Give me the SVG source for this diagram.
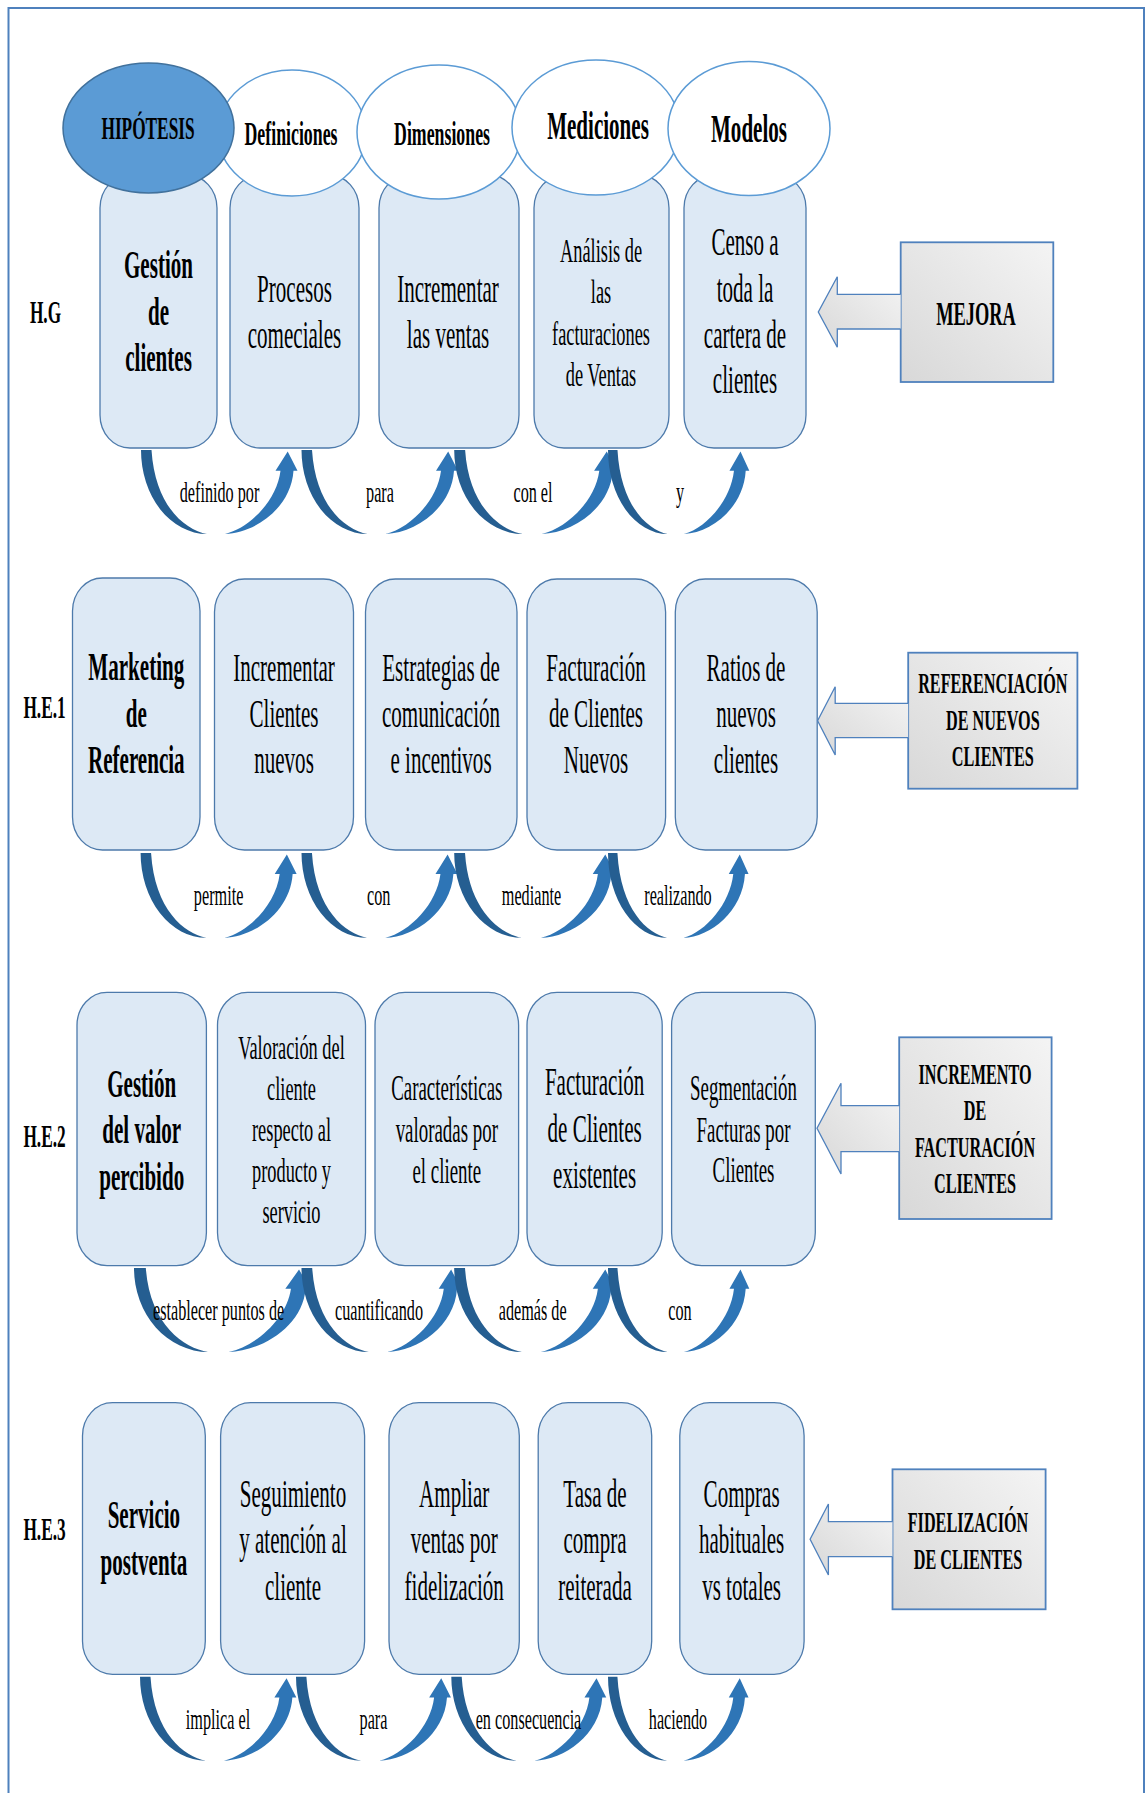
<svg xmlns="http://www.w3.org/2000/svg" xmlns:xlink="http://www.w3.org/1999/xlink" width="1147" height="1793" viewBox="0 0 1147 1793">
  <style>
    text { font-family: "Liberation Serif", "Times New Roman", serif; fill: #000; text-anchor: middle; }
    .b { font-weight: bold; }
    .f39 { font-size: 39px; }
    .f35 { font-size: 35px; }
    .f34 { font-size: 34px; }
    .f33 { font-size: 33px; }
    .f32 { font-size: 32px; }
    .f30 { font-size: 30px; }
    .box { fill: #dde9f5; stroke: #4d7aab; stroke-width: 1.3; }
    .ell { fill: #ffffff; stroke: #5b9bd5; stroke-width: 1.5; }
    .ell-main { fill: #5b9bd5; stroke: #41719c; stroke-width: 1.5; }
    .tag { fill: url(#grey); stroke: #4f81bd; stroke-width: 1.8; }
    .blk { fill: url(#grey); stroke: #4f81bd; stroke-width: 1.3; }
    .cd { fill: #255e91; }
    .cl { fill: #2e75b6; }
  </style>
  <defs>
    <linearGradient id="grey" x1="1" y1="0" x2="0" y2="1">
      <stop offset="0" stop-color="#f4f4f4"/>
      <stop offset="1" stop-color="#d8d8d8"/>
    </linearGradient>
    <!-- curved "U" connector: dark back band, lighter rising arrow -->
    <g id="curv">
      <path class="cd" d="M0,0 A66,84 0 0 0 66,84 C44,80 14,56 10.5,0 Z"/>
      <path class="cl" d="M84,84 C114,83 150,58 152.5,20.7 L156.5,20.7 L146.7,1.5 L134.5,20.7 L139.5,20.7 C136,50 109,78 84,84 Z"/>
    </g>
  </defs>

  <!-- outer frame -->
  <rect x="8.5" y="8" width="1135.5" height="1800" fill="#ffffff" stroke="#4f81bd" stroke-width="2"/>

  <!-- ===== H.G row ===== -->
  <g id="hg-label"><text class="b f32" transform="matrix(.54 0 0 1 45.5 0)" y="323">H.G</text></g>

  <g id="hg-gestion">
    <rect class="box" x="100" y="175" width="117" height="273" rx="30" ry="33"/>
    <text class="b f39" transform="matrix(.54 0 0 1 158.5 0)"><tspan x="0" y="278">Gestión</tspan><tspan x="0" y="325">de</tspan><tspan x="0" y="371.5">clientes</tspan></text>
  </g>
  <g id="hg-procesos">
    <rect class="box" x="230" y="175" width="129" height="273" rx="30" ry="33"/>
    <text class="f39" transform="matrix(.54 0 0 1 294.5 0)"><tspan x="0" y="302">Procesos</tspan><tspan x="0" y="348">comeciales</tspan></text>
  </g>
  <g id="hg-incrementar">
    <rect class="box" x="379" y="175" width="140" height="273" rx="30" ry="33"/>
    <text class="f39" transform="matrix(.54 0 0 1 448 0)"><tspan x="0" y="302">Incrementar</tspan><tspan x="0" y="348">las ventas</tspan></text>
  </g>
  <g id="hg-analisis">
    <rect class="box" x="534" y="175" width="135" height="273" rx="30" ry="33"/>
    <text class="f34" transform="matrix(.54 0 0 1 601 0)"><tspan x="0" y="262.5">Análisis de</tspan><tspan x="0" y="303">las</tspan><tspan x="0" y="344.6">facturaciones</tspan><tspan x="0" y="386.4">de Ventas</tspan></text>
  </g>
  <g id="hg-censo">
    <rect class="box" x="684" y="175" width="122" height="273" rx="30" ry="33"/>
    <text class="f39" transform="matrix(.54 0 0 1 745 0)"><tspan x="0" y="255.4">Censo a</tspan><tspan x="0" y="301.8">toda la</tspan><tspan x="0" y="348.2">cartera de</tspan><tspan x="0" y="393">clientes</tspan></text>
  </g>

  <!-- column headings -->
  <g id="head-definiciones">
    <ellipse class="ell" cx="292" cy="133" rx="74" ry="63"/>
    <text class="b f33" transform="matrix(.54 0 0 1 291 0)" y="144.6">Definiciones</text>
  </g>
  <g id="head-dimensiones">
    <ellipse class="ell" cx="439" cy="132" rx="82" ry="67"/>
    <text class="b f33" transform="matrix(.54 0 0 1 442 0)" y="144.6">Dimensiones</text>
  </g>
  <g id="head-mediciones">
    <ellipse class="ell" cx="596" cy="127.5" rx="84" ry="67.5"/>
    <text class="b f39" transform="matrix(.54 0 0 1 598 0)" y="139">Mediciones</text>
  </g>
  <g id="head-modelos">
    <ellipse class="ell" cx="749" cy="128.5" rx="81" ry="67"/>
    <text class="b f39" transform="matrix(.54 0 0 1 749 0)" y="142">Modelos</text>
  </g>
  <g id="head-hipotesis">
    <ellipse class="ell-main" cx="148.5" cy="128" rx="85.5" ry="65"/>
    <text class="b f32" transform="matrix(.54 0 0 1 148 0)" y="139">HIPÓTESIS</text>
  </g>

  <g id="hg-mejora">
    <rect class="tag" x="900.7" y="242.3" width="152.6" height="139.7"/>
    <text class="b f34" transform="matrix(.54 0 0 1 976 0)" y="325">MEJORA</text>
  </g>

  <!-- ===== H.E.1 row ===== -->
  <g id="he1-label"><text class="b f32" transform="matrix(.54 0 0 1 44.5 0)" y="717.7">H.E.1</text></g>
  <g id="he1-marketing">
    <rect class="box" x="72.5" y="578" width="127.5" height="272" rx="30" ry="33"/>
    <text class="b f39" transform="matrix(.54 0 0 1 136.3 0)"><tspan x="0" y="680">Marketing</tspan><tspan x="0" y="726.7">de</tspan><tspan x="0" y="773.3">Referencia</tspan></text>
  </g>
  <g id="he1-clientes">
    <rect class="box" x="214.5" y="579" width="139" height="271" rx="30" ry="33"/>
    <text class="f39" transform="matrix(.54 0 0 1 284 0)"><tspan x="0" y="680.7">Incrementar</tspan><tspan x="0" y="727.5">Clientes</tspan><tspan x="0" y="773.3">nuevos</tspan></text>
  </g>
  <g id="he1-estrategias">
    <rect class="box" x="365.5" y="579" width="151.5" height="271" rx="30" ry="33"/>
    <text class="f39" transform="matrix(.54 0 0 1 441 0)"><tspan x="0" y="680.7">Estrategias de</tspan><tspan x="0" y="727.5">comunicación</tspan><tspan x="0" y="773.3">e incentivos</tspan></text>
  </g>
  <g id="he1-facturacion">
    <rect class="box" x="527" y="579" width="138.6" height="271" rx="30" ry="33"/>
    <text class="f39" transform="matrix(.54 0 0 1 596 0)"><tspan x="0" y="680.7">Facturación</tspan><tspan x="0" y="727.5">de Clientes</tspan><tspan x="0" y="773.3">Nuevos</tspan></text>
  </g>
  <g id="he1-ratios">
    <rect class="box" x="675.3" y="579" width="141.9" height="271" rx="30" ry="33"/>
    <text class="f39" transform="matrix(.54 0 0 1 746 0)"><tspan x="0" y="680.7">Ratios de</tspan><tspan x="0" y="727.5">nuevos</tspan><tspan x="0" y="773.3">clientes</tspan></text>
  </g>
  <g id="he1-referenciacion">
    <rect class="tag" x="908.2" y="652.7" width="169.2" height="136"/>
    <text class="b f30" transform="matrix(.54 0 0 1 992.8 0)"><tspan x="0" y="693.3">REFERENCIACIÓN</tspan><tspan x="0" y="730">DE NUEVOS</tspan><tspan x="0" y="766">CLIENTES</tspan></text>
  </g>

  <!-- ===== H.E.2 row ===== -->
  <g id="he2-label"><text class="b f32" transform="matrix(.54 0 0 1 44.5 0)" y="1146.7">H.E.2</text></g>
  <g id="he2-gestion">
    <rect class="box" x="77" y="992.3" width="129.4" height="273.4" rx="30" ry="33"/>
    <text class="b f39" transform="matrix(.54 0 0 1 141.7 0)"><tspan x="0" y="1096.7">Gestión</tspan><tspan x="0" y="1143.3">del valor</tspan><tspan x="0" y="1190">percibido</tspan></text>
  </g>
  <g id="he2-valoracion">
    <rect class="box" x="217.5" y="992.3" width="148" height="273.4" rx="30" ry="33"/>
    <text class="f34" transform="matrix(.54 0 0 1 291.5 0)"><tspan x="0" y="1059">Valoración del</tspan><tspan x="0" y="1099.8">cliente</tspan><tspan x="0" y="1140.8">respecto al</tspan><tspan x="0" y="1181.8">producto y</tspan><tspan x="0" y="1223">servicio</tspan></text>
  </g>
  <g id="he2-caracteristicas">
    <rect class="box" x="375" y="992.3" width="143.6" height="273.4" rx="30" ry="33"/>
    <text class="f35" transform="matrix(.54 0 0 1 446.8 0)"><tspan x="0" y="1100">Características</tspan><tspan x="0" y="1141.7">valoradas por</tspan><tspan x="0" y="1183.3">el cliente</tspan></text>
  </g>
  <g id="he2-facturacion">
    <rect class="box" x="527" y="992.3" width="135.2" height="273.4" rx="30" ry="33"/>
    <text class="f39" transform="matrix(.54 0 0 1 594.6 0)"><tspan x="0" y="1095">Facturación</tspan><tspan x="0" y="1141.7">de Clientes</tspan><tspan x="0" y="1188.3">existentes</tspan></text>
  </g>
  <g id="he2-segmentacion">
    <rect class="box" x="671.6" y="992.3" width="143.7" height="273.4" rx="30" ry="33"/>
    <text class="f35" transform="matrix(.54 0 0 1 743.5 0)"><tspan x="0" y="1100">Segmentación</tspan><tspan x="0" y="1141.7">Facturas por</tspan><tspan x="0" y="1182.3">Clientes</tspan></text>
  </g>
  <g id="he2-incremento">
    <rect class="tag" x="899.2" y="1037.3" width="152.4" height="181.7"/>
    <text class="b f30" transform="matrix(.54 0 0 1 975 0)"><tspan x="0" y="1084">INCREMENTO</tspan><tspan x="0" y="1120.5">DE</tspan><tspan x="0" y="1157">FACTURACIÓN</tspan><tspan x="0" y="1193.5">CLIENTES</tspan></text>
  </g>

  <!-- ===== H.E.3 row ===== -->
  <g id="he3-label"><text class="b f32" transform="matrix(.54 0 0 1 44.5 0)" y="1540">H.E.3</text></g>
  <g id="he3-servicio">
    <rect class="box" x="82.5" y="1402.7" width="122.8" height="271.6" rx="30" ry="33"/>
    <text class="b f39" transform="matrix(.54 0 0 1 143.9 0)"><tspan x="0" y="1528.3">Servicio</tspan><tspan x="0" y="1575">postventa</tspan></text>
  </g>
  <g id="he3-seguimiento">
    <rect class="box" x="220.6" y="1402.7" width="144" height="271.6" rx="30" ry="33"/>
    <text class="f39" transform="matrix(.54 0 0 1 293 0)"><tspan x="0" y="1506.7">Seguimiento</tspan><tspan x="0" y="1553.3">y atención al</tspan><tspan x="0" y="1600">cliente</tspan></text>
  </g>
  <g id="he3-ampliar">
    <rect class="box" x="389" y="1402.7" width="130.3" height="271.6" rx="30" ry="33"/>
    <text class="f39" transform="matrix(.54 0 0 1 454.2 0)"><tspan x="0" y="1506.7">Ampliar</tspan><tspan x="0" y="1553.3">ventas por</tspan><tspan x="0" y="1600">fidelización</tspan></text>
  </g>
  <g id="he3-tasa">
    <rect class="box" x="538.2" y="1402.7" width="113.5" height="271.6" rx="30" ry="33"/>
    <text class="f39" transform="matrix(.54 0 0 1 595 0)"><tspan x="0" y="1506.7">Tasa de</tspan><tspan x="0" y="1553.3">compra</tspan><tspan x="0" y="1600">reiterada</tspan></text>
  </g>
  <g id="he3-compras">
    <rect class="box" x="679.8" y="1402.7" width="124.3" height="271.6" rx="30" ry="33"/>
    <text class="f39" transform="matrix(.54 0 0 1 741.6 0)"><tspan x="0" y="1506.7">Compras</tspan><tspan x="0" y="1553.3">habituales</tspan><tspan x="0" y="1600">vs totales</tspan></text>
  </g>
  <g id="he3-fidelizacion">
    <rect class="tag" x="892.5" y="1469.3" width="153.1" height="140"/>
    <text class="b f30" transform="matrix(.54 0 0 1 968 0)"><tspan x="0" y="1531.7">FIDELIZACIÓN</tspan><tspan x="0" y="1569.3">DE CLIENTES</tspan></text>
  </g>

  <!-- ===== connectors ===== -->
  <g id="connectors">
    <!-- block arrows from the side boxes -->
    <path class="blk" d="M900.7,294.3 L837.3,294.3 L837.3,276.7 L818.3,312 L837.3,347.3 L837.3,329 L900.7,329"/>
    <path class="blk" d="M908.2,703.3 L835.2,703.3 L835.2,686.7 L817.6,720.7 L835.2,755 L835.2,737.7 L908.2,737.7"/>
    <path class="blk" d="M899.2,1105.7 L841,1105.7 L841,1083.3 L817,1128.3 L841,1174 L841,1151.7 L899.2,1151.7"/>
    <path class="blk" d="M892.5,1521.7 L828.4,1521.7 L828.4,1504 L810.1,1539.3 L828.4,1575 L828.4,1556.7 L892.5,1556.7"/>

    <!-- curved links, H.G row -->
    <use href="#curv" transform="translate(141,450) scale(1,1)"/>
    <use href="#curv" transform="translate(301.5,450) scale(1.0,1)"/>
    <use href="#curv" transform="translate(454.2,450) scale(1.04,1)"/>
    <use href="#curv" transform="translate(608,450) scale(0.903,1)"/>
    <g class="f30">
      <text transform="matrix(.54 0 0 1 219.5 0)" y="502">definido por</text>
      <text transform="matrix(.54 0 0 1 380 0)" y="502">para</text>
      <text transform="matrix(.54 0 0 1 533 0)" y="502">con el</text>
      <text transform="matrix(.54 0 0 1 680 0)" y="502">y</text>
    </g>

    <!-- curved links, H.E.1 row -->
    <use href="#curv" transform="translate(140.6,853) scale(0.997,1.01)"/>
    <use href="#curv" transform="translate(301.5,853) scale(0.996,1.01)"/>
    <use href="#curv" transform="translate(454.2,853) scale(1.03,1.01)"/>
    <use href="#curv" transform="translate(608,853) scale(0.898,1.01)"/>
    <g class="f30">
      <text transform="matrix(.54 0 0 1 218.6 0)" y="905">permite</text>
      <text transform="matrix(.54 0 0 1 378.7 0)" y="905">con</text>
      <text transform="matrix(.54 0 0 1 531.5 0)" y="905">mediante</text>
      <text transform="matrix(.54 0 0 1 678 0)" y="905">realizando</text>
    </g>

    <!-- curved links, H.E.2 row -->
    <use href="#curv" transform="translate(134,1268) scale(1.125,1)"/>
    <use href="#curv" transform="translate(301.5,1268) scale(1.02,1)"/>
    <use href="#curv" transform="translate(454.2,1268) scale(1.03,1)"/>
    <use href="#curv" transform="translate(608,1268) scale(0.903,1)"/>
    <g class="f30">
      <text transform="matrix(.54 0 0 1 218.6 0)" y="1320">establecer puntos de</text>
      <text transform="matrix(.54 0 0 1 379 0)" y="1320">cuantificando</text>
      <text transform="matrix(.54 0 0 1 532.7 0)" y="1320">además de</text>
      <text transform="matrix(.54 0 0 1 680 0)" y="1320">con</text>
    </g>

    <!-- curved links, H.E.3 row -->
    <use href="#curv" transform="translate(140,1676.7) scale(0.999,1)"/>
    <use href="#curv" transform="translate(296,1676.7) scale(0.99,1)"/>
    <use href="#curv" transform="translate(451.3,1676.7) scale(0.99,1)"/>
    <use href="#curv" transform="translate(608,1676.7) scale(0.898,1)"/>
    <g class="f30">
      <text transform="matrix(.54 0 0 1 218 0)" y="1729">implica  el</text>
      <text transform="matrix(.54 0 0 1 373.5 0)" y="1729">para</text>
      <text transform="matrix(.54 0 0 1 528.5 0)" y="1729">en consecuencia</text>
      <text transform="matrix(.54 0 0 1 678 0)" y="1729">haciendo</text>
    </g>
  </g>
</svg>
